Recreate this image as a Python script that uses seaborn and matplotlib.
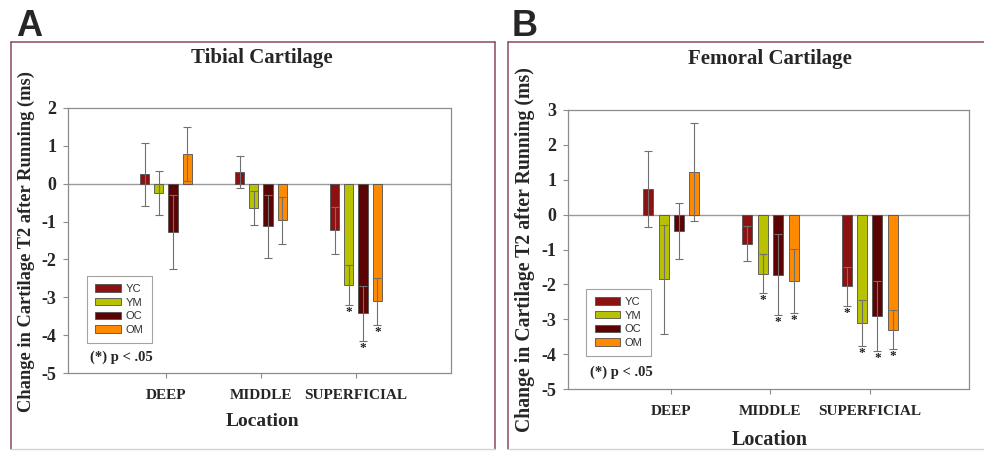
import numpy as np
import pandas as pd
import matplotlib
matplotlib.use("Agg")
import matplotlib.pyplot as plt
import seaborn as sns
from matplotlib.lines import Line2D
from matplotlib.patches import Patch

# ---------------- data ----------------
locations = ["DEEP", "MIDDLE", "SUPERFICIAL"]
groups = ["YC", "YM", "OC", "OM"]
colors = ["#8c1212", "#b8c200", "#5c0404", "#ff8a00"]

# Tibial cartilage (panel A): mean change per location (DEEP, MIDDLE, SUPERFICIAL)
tibial_YC = [0.25, 0.31, -1.23]
tibial_YM = [-0.25, -0.65, -2.67]
tibial_OC = [-1.27, -1.12, -3.42]
tibial_OM = [0.78, -0.97, -3.10]
tibial_YC_err = [0.83, 0.42, 0.62]
tibial_YM_err = [0.58, 0.45, 0.53]
tibial_OC_err = [0.97, 0.83, 0.73]
tibial_OM_err = [0.71, 0.62, 0.62]
tibial_sig = [("SUPERFICIAL", "YM"), ("SUPERFICIAL", "OC"), ("SUPERFICIAL", "OM")]

# Femoral cartilage (panel B)
femoral_YC = [0.74, -0.83, -2.06]
femoral_YM = [-1.85, -1.69, -3.11]
femoral_OC = [-0.46, -1.72, -2.90]
femoral_OM = [1.23, -1.90, -3.30]
femoral_YC_err = [1.09, 0.50, 0.56]
femoral_YM_err = [1.56, 0.55, 0.67]
femoral_OC_err = [0.80, 1.16, 1.01]
femoral_OM_err = [1.41, 0.91, 0.56]
femoral_sig = [("MIDDLE", "YM"), ("MIDDLE", "OC"), ("MIDDLE", "OM"),
               ("SUPERFICIAL", "YC"), ("SUPERFICIAL", "YM"),
               ("SUPERFICIAL", "OC"), ("SUPERFICIAL", "OM")]

# ---------------- style ----------------
sns.set_theme(style="white")
SERIF = "Liberation Serif"
SANS = "Liberation Sans"
plt.rcParams["font.family"] = [SERIF, "DejaVu Serif"]

W, H = 984, 454
fig = plt.figure(figsize=(W / 100, H / 100), dpi=100)
fig.patch.set_facecolor("white")


def fx(px):
    return px / W


def fy(py):
    return 1 - py / H


def make_df(vals, errs):
    rows = []
    for g, v, e in zip(groups, vals, errs):
        for loc, vv, ee in zip(locations, v, e):
            rows.append({"Location": loc, "Group": g, "Change": vv, "Err": ee})
    return pd.DataFrame(rows)


def panel(rect, df, sig, yr, xlim, width, legend_anchor, ptxt_pos):
    ax = fig.add_axes(rect)
    sns.barplot(data=df, x="Location", y="Change", hue="Group",
                order=locations, hue_order=groups, palette=colors,
                width=width, gap=0.35, errorbar=None, saturation=1,
                edgecolor="#505050", linewidth=0.6, ax=ax, legend=False,
                zorder=2)
    # error bars from the bar positions
    for gi, g in enumerate(groups):
        cont = ax.containers[gi]
        sub = df[df["Group"] == g].set_index("Location")
        for li, loc in enumerate(locations):
            p = cont.patches[li]
            x = p.get_x() + p.get_width() / 2
            m = sub.loc[loc, "Change"]
            e = sub.loc[loc, "Err"]
            ax.errorbar(x, m, yerr=e, fmt="none", ecolor="#707070",
                        elinewidth=0.8, capsize=3.2, capthick=0.8, zorder=3)
            if (loc, g) in sig:
                ax.text(x, m - e - 0.2, "*", ha="center", va="center",
                        fontsize=9.5, fontweight="bold", color="#202020",
                        family=SERIF, zorder=4)
    ax.axhline(0, color="#9a9a9a", lw=1.0, zorder=1)
    ax.set_ylim(yr[0], yr[1])
    ax.set_yticks(range(yr[0], yr[1] + 1))
    ax.set_yticklabels([str(t) for t in range(yr[0], yr[1] + 1)],
                       fontsize=13, fontweight="bold", family=SERIF)
    ax.set_xlim(*xlim)
    ax.set_xticks(range(len(locations)))
    ax.set_xticklabels(locations, fontsize=11, fontweight="bold", family=SERIF)
    ax.set_xlabel("")
    ax.set_ylabel("")
    for s in ax.spines.values():
        s.set_color("#8c8c8c")
        s.set_linewidth(0.9)
        s.set_visible(True)
    ax.tick_params(axis="y", direction="out", length=3.5, width=0.8,
                   color="#8c8c8c", pad=5, left=True)
    ax.tick_params(axis="x", direction="out", length=3.5, width=0.8,
                   color="#8c8c8c", pad=8, bottom=True)
    ax.set_facecolor("white")
    handles = [Patch(facecolor=c, edgecolor="#505050", linewidth=0.6, label=g)
               for g, c in zip(groups, colors)]
    leg = ax.legend(handles=handles, loc="lower left",
                    bbox_to_anchor=legend_anchor, frameon=True, fancybox=False,
                    prop={"family": SANS, "size": 8}, handlelength=2.3,
                    handleheight=0.65, labelspacing=0.32, borderpad=0.75,
                    handletextpad=0.4, borderaxespad=0,
                    labelcolor="#303030")
    leg.get_frame().set_edgecolor("#8c8c8c")
    leg.get_frame().set_linewidth(0.8)
    ax.text(ptxt_pos[0], ptxt_pos[1], "(*) p < .05", transform=ax.transAxes,
            ha="left", va="center", fontsize=10.5, fontweight="bold",
            family=SERIF)
    return ax


df_tib = make_df([tibial_YC, tibial_YM, tibial_OC, tibial_OM],
                 [tibial_YC_err, tibial_YM_err, tibial_OC_err, tibial_OM_err])
df_fem = make_df([femoral_YC, femoral_YM, femoral_OC, femoral_OM],
                 [femoral_YC_err, femoral_YM_err, femoral_OC_err, femoral_OM_err])

axA = panel([fx(68), fy(373), fx(451 - 68), (373 - 108) / H], df_tib,
            tibial_sig, (-5, 2), (-1.03, 3.0), 0.6, (0.05, 0.113),
            (0.057, 0.06))
axB = panel([fx(568), fy(389), fx(969 - 568), (389 - 110) / H], df_fem,
            femoral_sig, (-5, 3), (-1.04, 3.0), 0.62, (0.046, 0.118),
            (0.056, 0.061))

# titles, axis labels
fig.text(fx(262), fy(58), "Tibial Cartilage", ha="center", va="center",
         fontsize=15, fontweight="bold", family=SERIF)
fig.text(fx(770), fy(59), "Femoral Cartilage", ha="center", va="center",
         fontsize=15, fontweight="bold", family=SERIF)
ylab = "Change in Cartilage T2 after Running (ms)"
fig.text(fx(26), fy(242), ylab, rotation=90, ha="center", va="center",
         fontsize=13.3, fontweight="bold", family=SERIF)
fig.text(fx(525), fy(250), ylab, rotation=90, ha="center", va="center",
         fontsize=14.2, fontweight="bold", family=SERIF)
fig.text(fx(262), fy(422), "Location", ha="center", va="center",
         fontsize=14, fontweight="bold", family=SERIF)
fig.text(fx(770), fy(440), "Location", ha="center", va="center",
         fontsize=14.5, fontweight="bold", family=SERIF)

# panel letters
fig.text(fx(16), fy(36), "A", ha="left", va="baseline", fontsize=26,
         fontweight="bold", family=SANS)
fig.text(fx(512), fy(36), "B", ha="left", va="baseline", fontsize=26,
         fontweight="bold", family=SANS)

# panel frames
fc = "#8a4a58"
for (l, r) in [(10.5, 494.5), (507.5, 990)]:
    fig.add_artist(Line2D([fx(l), fx(l)], [fy(42), fy(449)], color=fc, lw=1.1,
                          transform=fig.transFigure))
    fig.add_artist(Line2D([fx(r), fx(r)], [fy(42), fy(449)], color=fc, lw=1.1,
                          transform=fig.transFigure))
    fig.add_artist(Line2D([fx(l), fx(r)], [fy(42), fy(42)], color=fc, lw=1.1,
                          transform=fig.transFigure))
    fig.add_artist(Line2D([fx(l), fx(r)], [fy(449), fy(449)], color="#d4d4d4",
                          lw=1.0, transform=fig.transFigure))

fig.savefig("out.png", dpi=100, facecolor="white")
